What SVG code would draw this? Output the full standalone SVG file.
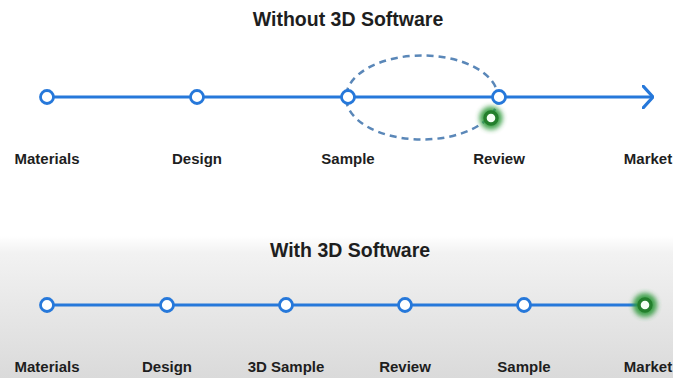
<svg xmlns="http://www.w3.org/2000/svg" width="673" height="378" viewBox="0 0 673 378">
  <defs>
    <linearGradient id="panelShade" x1="0" y1="0" x2="0" y2="1">
      <stop offset="0" stop-color="#ffffff"/>
      <stop offset="0.12" stop-color="#f2f2f2"/>
      <stop offset="1" stop-color="#dadada"/>
    </linearGradient>
    <filter id="glow" x="-100%" y="-100%" width="300%" height="300%">
      <feGaussianBlur stdDeviation="2.6"/>
    </filter>
    <marker id="chevron" viewBox="0 0 12 24" refX="11" refY="12" markerWidth="12" markerHeight="24" markerUnits="userSpaceOnUse" orient="auto">
      <path d="M1,1 L11,12 L1,23" fill="none" stroke="#2678da" stroke-width="3.2" stroke-linecap="round" stroke-linejoin="round"/>
    </marker>
    <style>
      .title { font-family: "Liberation Sans", Arial, sans-serif; font-weight: bold; font-size: 19.5px; fill: #1e1e1e; text-anchor: middle; }
      .label { font-family: "Liberation Sans", Arial, sans-serif; font-weight: bold; font-size: 15px; fill: #1e1e1e; text-anchor: middle; }
      .track { stroke: #2678da; stroke-width: 3.2; fill: none; }
      .node { fill: #ffffff; stroke: #2678da; stroke-width: 2.8; }
      .halo { fill: #2f9a3a; opacity: 0.9; filter: url(#glow); }
      .done { fill: #f4fff4; stroke: #237f2c; stroke-width: 3.4; }
      .loop { fill: none; stroke: #5a87b8; stroke-width: 2.5; stroke-dasharray: 7 5; }
    </style>
  </defs>

  <!-- backgrounds -->
  <rect x="0" y="0" width="673" height="378" fill="#ffffff"/>
  <rect x="0" y="236" width="673" height="142" fill="url(#panelShade)"/>

  <!-- titles -->
  <text class="title" x="348" y="26">Without 3D Software</text>
  <text class="title" x="350" y="257">With 3D Software</text>

  <!-- connectors -->
  <g id="connectors">
    <line class="track" x1="47" y1="97" x2="653" y2="97" marker-end="url(#chevron)"/>
    <ellipse class="loop" cx="422" cy="97.5" rx="76" ry="42"/>
    <line class="track" x1="47" y1="305" x2="645" y2="305"/>
  </g>

  <!-- without 3D software -->
  <g id="top-materials"><circle class="node" cx="47" cy="97" r="6.5"/><text class="label" x="47" y="164">Materials</text></g>
  <g id="top-design"><circle class="node" cx="197" cy="97" r="6.5"/><text class="label" x="197" y="164">Design</text></g>
  <g id="top-sample"><circle class="node" cx="348" cy="97" r="6.5"/><text class="label" x="348" y="164">Sample</text></g>
  <g id="top-review"><circle class="node" cx="499" cy="97" r="6.5"/><text class="label" x="499" y="164">Review</text></g>
  <g id="top-market"><text class="label" x="648" y="164">Market</text></g>
  <g id="top-current">
    <circle class="halo" cx="491" cy="118" r="11.5"/>
    <circle class="done" cx="491" cy="118" r="6"/>
  </g>

  <!-- with 3D software -->
  <g id="bottom-materials"><circle class="node" cx="47" cy="305" r="6.5"/><text class="label" x="47" y="372">Materials</text></g>
  <g id="bottom-design"><circle class="node" cx="167" cy="305" r="6.5"/><text class="label" x="167" y="372">Design</text></g>
  <g id="bottom-3d-sample"><circle class="node" cx="286" cy="305" r="6.5"/><text class="label" x="286" y="372">3D Sample</text></g>
  <g id="bottom-review"><circle class="node" cx="405" cy="305" r="6.5"/><text class="label" x="405" y="372">Review</text></g>
  <g id="bottom-sample"><circle class="node" cx="524" cy="305" r="6.5"/><text class="label" x="524" y="372">Sample</text></g>
  <g id="bottom-market">
    <circle class="halo" cx="645" cy="305" r="12"/>
    <circle class="done" cx="645" cy="305" r="6"/>
    <text class="label" x="648" y="372">Market</text>
  </g>
</svg>
